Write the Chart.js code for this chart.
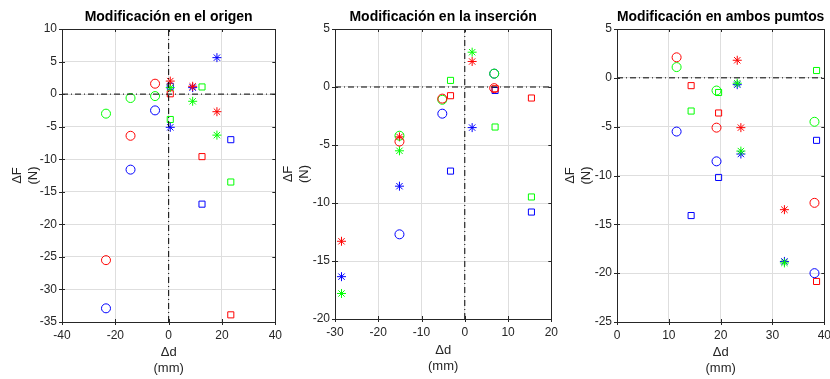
<!DOCTYPE html>
<html>
<head>
<meta charset="utf-8">
<script src="https://cdn.jsdelivr.net/npm/chart.js@4/dist/chart.umd.min.js"></script>
<style>
  html, body { margin: 0; padding: 0; background: #fff; overflow: hidden; }
  body { width: 830px; height: 379px; position: relative; }
  canvas { position: absolute; top: 0; }
</style>
</head>
<body>
<canvas id="origen"></canvas>
<canvas id="insercion"></canvas>
<canvas id="ambos"></canvas>
<script>
// colours: rojo, verde, azul
const colores = ['#ff0000', '#00ff00', '#0000ff'];

// Modificación en el origen
const origenXLim = [-40, 40];
const origenYLim = [-35, 10];
const origenCirculoX = [-23.5, -14.3, -5.1];
const origenCirculoY = [[-25.5, -6.4, 1.6], [-3.0, -0.6, -0.3], [-32.9, -11.6, -2.5]];
const origenAsteriscoX = [0.6, 9, 18.1];
const origenAsteriscoY = [[2.0, 1.2, -2.7], [1.0, -1.1, -6.3], [-5.1, 1.0, 5.6]];
const origenCuadradoX = [0.6, 12.5, 23.3];
const origenCuadradoY = [[0.05, -9.6, -33.9], [-3.9, 1.1, -13.5], [1.2, -16.9, -7.0]];

// Modificación en la inserción
const insercionXLim = [-30, 20];
const insercionYLim = [-20, 5];
const insercionCirculoX = [-15.1, -5.2, 6.8];
const insercionCirculoY = [[-4.7, -1.0, -0.1], [-4.2, -1.1, 1.15], [-12.7, -2.3, 1.15]];
const insercionAsteriscoX = [-28.5, -15.1, 1.7];
const insercionAsteriscoY = [[-13.3, -4.3, 2.2], [-17.8, -5.5, 3.0], [-16.35, -8.55, -3.5]];
const insercionCuadradoX = [-3.3, 7, 15.4];
const insercionCuadradoY = [[-0.75, -0.15, -0.95], [0.57, -3.45, -9.48], [-7.25, -0.3, -10.78]];

// Modificación en ambos pumtos
const ambosXLim = [0, 40];
const ambosYLim = [-25, 5];
const ambosCirculoX = [11.5, 19.2, 38.1];
const ambosCirculoY = [[2.1, -5.1, -12.8], [1.1, -1.3, -4.5], [-5.5, -8.55, -20.0]];
const ambosAsteriscoX = [23.2, 23.9, 32.3];
const ambosAsteriscoY = [[1.8, -5.1, -13.5], [-0.55, -7.5, -18.95], [-0.7, -7.8, -18.8]];
const ambosCuadradoX = [14.3, 19.6, 38.5];
const ambosCuadradoY = [[-0.8, -3.6, -20.85], [-3.4, -1.5, 0.75], [-14.1, -10.2, -6.4]];

const FONT = '"Liberation Sans", Arial, Helvetica, sans-serif';
const AXIS_COLOR = '#262626';

// box around the axes plus tick marks (MATLAB look)
const frame = {
  id: 'frame',
  afterDatasetsDraw(chart) {
    const { ctx, chartArea: a, scales } = chart;
    ctx.save();
    ctx.strokeStyle = AXIS_COLOR;
    ctx.lineWidth = 1;
    ctx.beginPath();
    scales.x.ticks.forEach(t => {
      const px = Math.round(scales.x.getPixelForValue(t.value)) + 0.5;
      ctx.moveTo(px, a.bottom + 3); ctx.lineTo(px, a.bottom - 3);
      ctx.moveTo(px, a.top); ctx.lineTo(px, a.top + 3);
    });
    scales.y.ticks.forEach(t => {
      const py = Math.round(scales.y.getPixelForValue(t.value)) + 0.5;
      ctx.moveTo(a.left - 3, py); ctx.lineTo(a.left + 3, py);
      ctx.moveTo(a.right, py); ctx.lineTo(a.right - 3, py);
    });
    ctx.stroke();
    ctx.strokeRect(Math.round(a.left) + 0.5, Math.round(a.top) + 0.5,
      Math.round(a.right - a.left), Math.round(a.bottom - a.top));
    ctx.restore();
  }
};

function markerSets(xs, ys, style, radius) {
  return ys.map((serie, i) => ({
    type: 'scatter',
    data: xs.map((x, j) => ({ x, y: serie[j] })),
    pointStyle: style,
    pointRadius: radius,
    pointBorderColor: colores[i],
    pointBackgroundColor: 'rgba(0,0,0,0)',
    pointBorderWidth: 1
  }));
}

function zeroLine(points) {
  return {
    type: 'line',
    data: points,
    borderColor: '#000',
    borderWidth: 1,
    borderDash: [6, 3, 1, 3],
    pointRadius: 0,
    fill: false
  };
}

function makeChart(id, opts) {
  const canvas = document.getElementById(id);
  canvas.style.left = opts.left + 'px';
  canvas.width = opts.width;
  canvas.height = opts.height;
  canvas.style.width = opts.width + 'px';
  canvas.style.height = opts.height + 'px';

  const datasets = [
    zeroLine([{ x: opts.xLim[0], y: 0 }, { x: opts.xLim[1], y: 0 }]),
    zeroLine([{ x: 0, y: opts.yLim[0] }, { x: 0, y: opts.yLim[1] }]),
    ...markerSets(opts.circX, opts.circY, 'circle', 4.5),
    ...markerSets(opts.starX, opts.starY, 'star', 4.5),
    ...markerSets(opts.sqX, opts.sqY, 'rect', 4.3)
  ];

  return new Chart(canvas, {
    type: 'scatter',
    data: { datasets },
    plugins: [frame],
    options: {
      responsive: false,
      animation: false,
      layout: { padding: { left: 0, right: 12, top: 0, bottom: 0 } },
      plugins: {
        legend: { display: false },
        tooltip: { enabled: false },
        title: {
          display: true,
          text: opts.title,
          fullSize: false,
          color: '#000',
          font: { family: FONT, size: 14, weight: 'bold', lineHeight: '17px' },
          padding: { top: 9, bottom: 3 }
        }
      },
      scales: {
        x: {
          type: 'linear',
          min: opts.xLim[0],
          max: opts.xLim[1],
          afterFit: s => { s.height = 57; },
          ticks: { stepSize: opts.xStep, color: AXIS_COLOR, padding: 6, maxRotation: 0,
                   font: { family: FONT, size: 12 } },
          grid: { color: '#dedede', drawTicks: false },
          border: { display: false },
          title: {
            display: true,
            text: ['\u0394d', '(mm)'],
            color: AXIS_COLOR,
            font: { family: FONT, size: 13, lineHeight: '16px' },
            padding: { top: 0, bottom: opts.xTitlePad }
          }
        },
        y: {
          type: 'linear',
          min: opts.yLim[0],
          max: opts.yLim[1],
          afterFit: s => { s.width = opts.yWidth; },
          ticks: { stepSize: 5, color: AXIS_COLOR, padding: 5,
                   font: { family: FONT, size: 12 } },
          grid: { color: '#dedede', drawTicks: false },
          border: { display: false },
          title: {
            display: true,
            text: ['\u0394F', '(N)'],
            color: AXIS_COLOR,
            font: { family: FONT, size: 13, lineHeight: '16px' },
            padding: { top: opts.yTitlePad, bottom: 0 }
          }
        }
      }
    }
  });
}

makeChart('origen', {
  title: 'Modificación en el origen',
  left: 0, width: 288, height: 379, yWidth: 62, yTitlePad: 9, xTitlePad: 3,
  xLim: origenXLim, yLim: origenYLim, xStep: 20,
  circX: origenCirculoX, circY: origenCirculoY,
  starX: origenAsteriscoX, starY: origenAsteriscoY,
  sqX: origenCuadradoX, sqY: origenCuadradoY
});

makeChart('insercion', {
  title: 'Modificación en la inserción',
  left: 280, width: 284, height: 376, yWidth: 55, yTitlePad: 0, xTitlePad: 2,
  xLim: insercionXLim, yLim: insercionYLim, xStep: 10,
  circX: insercionCirculoX, circY: insercionCirculoY,
  starX: insercionAsteriscoX, starY: insercionAsteriscoY,
  sqX: insercionCuadradoX, sqY: insercionCuadradoY
});

makeChart('ambos', {
  title: 'Modificación en ambos pumtos',
  left: 560, width: 277, height: 379, yWidth: 57, yTitlePad: 2, xTitlePad: 3,
  xLim: ambosXLim, yLim: ambosYLim, xStep: 10,
  circX: ambosCirculoX, circY: ambosCirculoY,
  starX: ambosAsteriscoX, starY: ambosAsteriscoY,
  sqX: ambosCuadradoX, sqY: ambosCuadradoY
});
</script>
</body>
</html>
